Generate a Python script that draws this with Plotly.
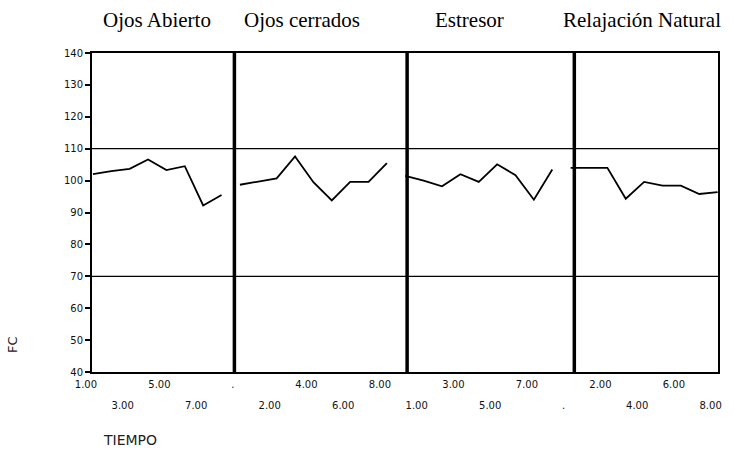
import plotly.graph_objects as go

# ---- data ----
phases = ["Ojos Abierto", "Ojos cerrados", "Estresor", "Relajación Natural"]

tiempo_ojos_abierto = ["1.00", "2.00", "3.00", "4.00", "5.00", "6.00", "7.00", "8.00"]
tiempo_ojos_cerrados = [".", "1.00", "2.00", "3.00", "4.00", "5.00", "6.00", "7.00", "8.00"]
tiempo_estresor = [".", "1.00", "2.00", "3.00", "4.00", "5.00", "6.00", "7.00", "8.00"]
tiempo_relajacion = [".", "1.00", "2.00", "3.00", "4.00", "5.00", "6.00", "7.00", "8.00"]

fc_ojos_abierto = [102.0, 103.0, 103.7, 106.6, 103.3, 104.5, 92.2, 95.5]
fc_ojos_cerrados = [98.7, 99.7, 100.7, 107.6, 99.5, 93.8, 99.6, 99.6, 105.5]
fc_estresor = [101.5, 100.0, 98.2, 102.0, 99.6, 105.1, 101.7, 94.0, 103.5]
fc_relajacion = [104.0, 104.0, 104.0, 94.3, 99.6, 98.4, 98.4, 95.8, 96.4]

ref_lines = [70, 110]
y_ticks = [40, 50, 60, 70, 80, 90, 100, 110, 120, 130, 140]

# ---- layout constants ----
phase_breaks = [7.7, 17.1, 26.2]
title_pos = [3.5, 11.4, 20.5, 29.9]

tiempo_all = [tiempo_ojos_abierto, tiempo_ojos_cerrados, tiempo_estresor, tiempo_relajacion]
fc_all = [fc_ojos_abierto, fc_ojos_cerrados, fc_estresor, fc_relajacion]

labels = []
xs_all = []
for t in tiempo_all:
    start = len(labels)
    xs_all.append(list(range(start, start + len(t))))
    labels.extend(t)

n = len(labels)
row1 = [i for i in range(0, n, 4)]
row2 = [i for i in range(2, n, 4)]

fig = go.Figure()
for k, (xs, ys) in enumerate(zip(xs_all, fc_all)):
    fig.add_trace(go.Scatter(
        x=xs, y=ys, mode="lines", name=phases[k],
        line=dict(color="black", width=1.8),
        xaxis="x" if k % 2 == 0 else "x2",
        showlegend=False, hoverinfo="x+y"))

for v in ref_lines:
    fig.add_shape(type="line", xref="paper", x0=0, x1=1, yref="y", y0=v, y1=v,
                  line=dict(color="black", width=1.3))
for b in phase_breaks:
    fig.add_shape(type="line", xref="x", x0=b, x1=b, yref="paper", y0=0, y1=1,
                  line=dict(color="black", width=3.5))

tickfont = dict(family="DejaVu Sans", size=10, color="#111")
xrange = [-0.05, n - 1 + 0.02]

fig.update_layout(
    width=734, height=454,
    margin=dict(l=92, r=14, t=53, b=82),
    paper_bgcolor="white", plot_bgcolor="white",
    xaxis=dict(range=xrange, tickmode="array", tickvals=row1,
               ticktext=[labels[i] for i in row1],
               showgrid=False, zeroline=False, showline=True, mirror=True,
               linecolor="black", linewidth=2, ticks="", tickfont=tickfont,
               ticklabelshift=-7, ticklabelstandoff=2),
    xaxis2=dict(range=xrange, matches="x", overlaying="x", anchor="y", side="bottom",
                tickmode="array", tickvals=row2, ticktext=[labels[i] for i in row2],
                showgrid=False, zeroline=False, showline=False, ticks="",
                tickfont=tickfont, ticklabelshift=-7, ticklabelstandoff=26),
    yaxis=dict(range=[40, 140], tickmode="array", tickvals=y_ticks,
               showgrid=False, zeroline=False, showline=True, mirror=True,
               linecolor="black", linewidth=2, ticks="outside", ticklen=5,
               tickwidth=2, tickcolor="black", tickfont=tickfont),
)

for name, xp in zip(phases, title_pos):
    fig.add_annotation(text=name, x=xp, xref="x", y=1.103, yref="paper",
                       showarrow=False, xanchor="center", yanchor="middle",
                       font=dict(family="Liberation Serif", size=21, color="black"))

fig.add_annotation(text="FC", x=-0.126, y=0.085, xref="paper", yref="paper",
                   textangle=-90, showarrow=False, xanchor="center", yanchor="middle",
                   font=dict(family="DejaVu Sans", size=13, color="#222"))
fig.add_annotation(text="TIEMPO", x=0.0605, y=-0.214, xref="paper", yref="paper",
                   showarrow=False, xanchor="center", yanchor="middle",
                   font=dict(family="DejaVu Sans", size=14, color="#222"))

fig.write_html("out.html")
